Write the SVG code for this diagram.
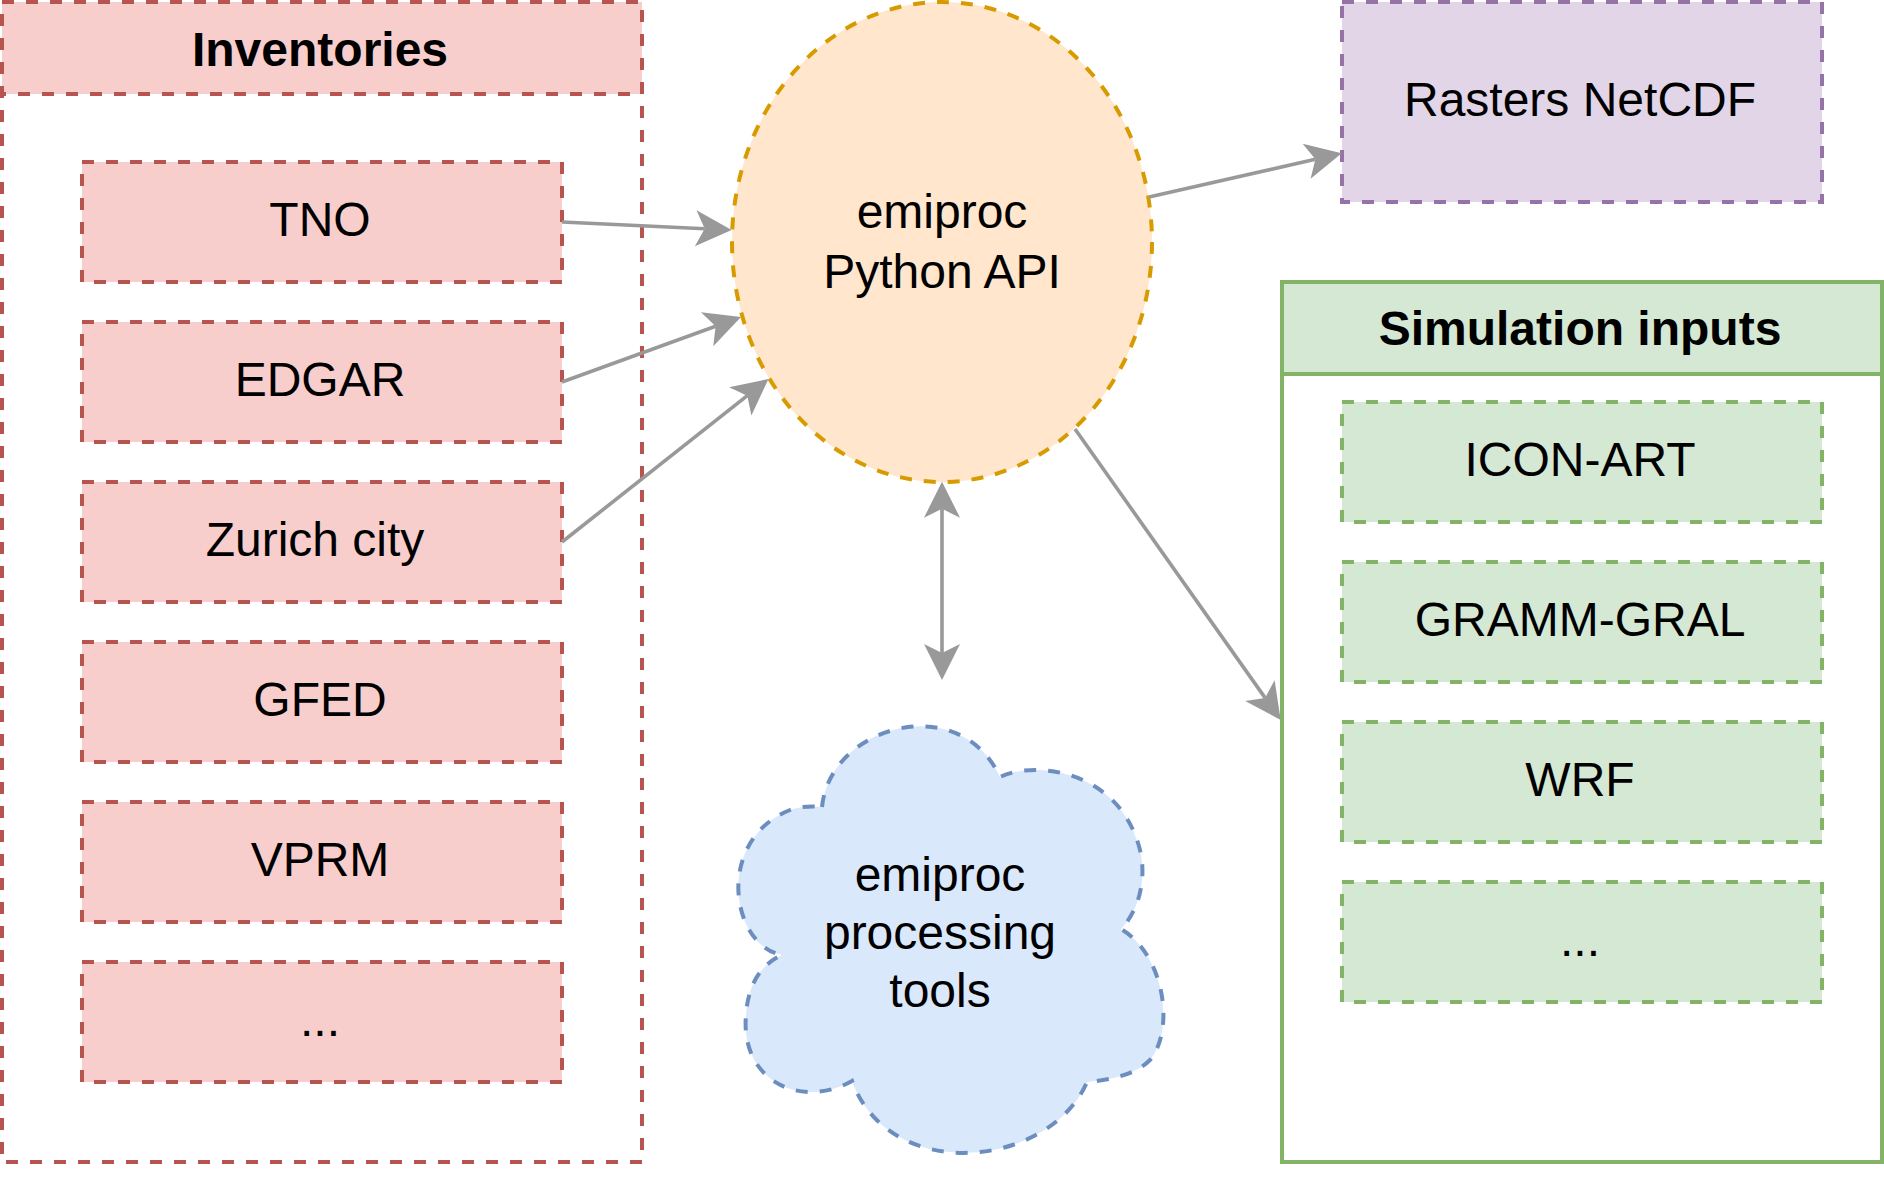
<svg xmlns="http://www.w3.org/2000/svg" width="1884" height="1184" viewBox="0 0 1884 1184">
<style>
text{font-family:"Liberation Sans",Arial,Helvetica,sans-serif;font-size:48px;fill:#000;text-anchor:middle}
.b{font-weight:bold}
.dash{stroke-width:4;stroke-dasharray:12 12}
.red{fill:#f8cecc;stroke:#b85450}
.grn{fill:#d5e8d4;stroke:#82b366}
.conn{fill:none;stroke:#999999;stroke-width:3.6}
</style>
<defs>
<marker id="ah" markerUnits="userSpaceOnUse" viewBox="-10 -20 40 40" refX="0" refY="0" markerWidth="40" markerHeight="40" orient="auto-start-reverse">
<path d="M27,0 L-9,-18 L0,0 L-9,18 Z" fill="#999999"/>
</marker>
</defs>
<rect width="1884" height="1184" fill="#ffffff"/>
<g id="inventories">
<rect x="2" y="2" width="640" height="1160" fill="#ffffff" stroke="#b85450" class="dash"/>
<rect x="2" y="2" width="640" height="92" class="red dash"/>
<text x="320" y="66" class="b">Inventories</text>
</g>
<g id="tno"><rect x="82" y="162" width="480" height="120" class="red dash"/><text x="320" y="236">TNO</text></g>
<g id="edgar"><rect x="82" y="322" width="480" height="120" class="red dash"/><text x="320" y="396">EDGAR</text></g>
<g id="zurich"><rect x="82" y="482" width="480" height="120" class="red dash"/><text x="315" y="556">Zurich city</text></g>
<g id="gfed"><rect x="82" y="642" width="480" height="120" class="red dash"/><text x="320" y="716">GFED</text></g>
<g id="vprm"><rect x="82" y="802" width="480" height="120" class="red dash"/><text x="320" y="876">VPRM</text></g>
<g id="inv-more"><rect x="82" y="962" width="480" height="120" class="red dash"/><text x="320" y="1036">...</text></g>
<g id="api">
<ellipse cx="942" cy="242" rx="210" ry="240" fill="#ffe6cc" stroke="#d79b00" class="dash"/>
<text x="942" y="228">emiproc</text>
<text x="942" y="288">Python API</text>
</g>
<g id="rasters">
<rect x="1342" y="2" width="480" height="200" fill="#e1d5e7" stroke="#9673a6" class="dash"/>
<text x="1580" y="116">Rasters NetCDF</text>
</g>
<g id="simulation">
<rect x="1282" y="282" width="600" height="880" fill="#ffffff" stroke="#82b366" stroke-width="4"/>
<rect x="1282" y="282" width="600" height="92" fill="#d5e8d4" stroke="#82b366" stroke-width="4"/>
<text x="1580" y="345" class="b">Simulation inputs</text>
</g>
<g id="icon"><rect x="1342" y="402" width="480" height="120" class="grn dash"/><text x="1580" y="476">ICON-ART</text></g>
<g id="gramm"><rect x="1342" y="562" width="480" height="120" class="grn dash"/><text x="1580" y="636">GRAMM-GRAL</text></g>
<g id="wrf"><rect x="1342" y="722" width="480" height="120" class="grn dash"/><text x="1580" y="796">WRF</text></g>
<g id="sim-more"><rect x="1342" y="882" width="480" height="120" class="grn dash"/><text x="1580" y="956">...</text></g>
<g id="tools">
<path d="M822,807 C830,725 960,690 1000,777 C1035,760 1120,770 1140,850 C1148,885 1135,915 1121,929 C1165,955 1175,1030 1150,1060 C1135,1075 1110,1080 1087,1082 C1050,1168 890,1185 852,1081 C800,1110 740,1080 746,1015 C748,985 760,965 782,955 C730,945 715,840 790,810 C800,806 815,806 822,807 Z" fill="#dae8fc" stroke="#6c8ebf" class="dash"/>
<text x="940" y="891">emiproc</text>
<text x="940" y="949">processing</text>
<text x="940" y="1007">tools</text>
</g>
<g id="connectors">
<line x1="562" y1="222" x2="704.7" y2="228.7" class="conn" marker-end="url(#ah)"/>
<line x1="562" y1="382" x2="715.6" y2="326.2" class="conn" marker-end="url(#ah)"/>
<line x1="562" y1="542" x2="747.3" y2="395.7" class="conn" marker-end="url(#ah)"/>
<line x1="1149" y1="197" x2="1315.4" y2="159.3" class="conn" marker-end="url(#ah)"/>
<line x1="1075" y1="429" x2="1265.1" y2="697.9" class="conn" marker-end="url(#ah)"/>
<line x1="942" y1="508.7" x2="942" y2="653" class="conn" marker-start="url(#ah)" marker-end="url(#ah)"/>
</g>
</svg>
